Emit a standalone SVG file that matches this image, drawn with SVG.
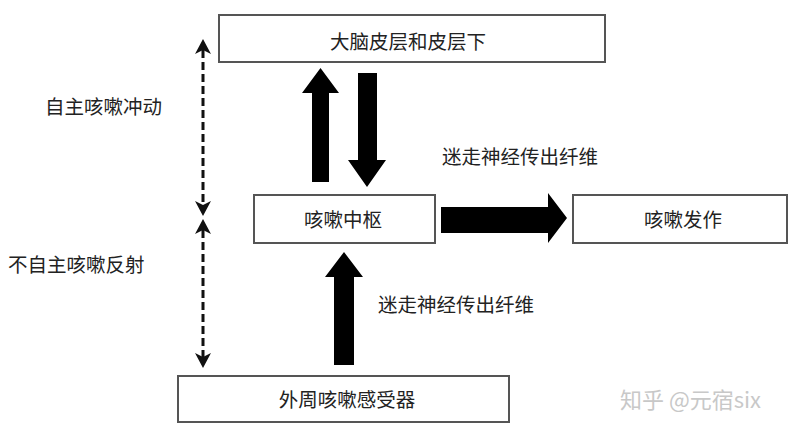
<svg xmlns="http://www.w3.org/2000/svg" width="794" height="431" viewBox="0 0 794 431">
<style>
.box{fill:#fff;stroke:#555;stroke-width:2}
.t{font-family:"Liberation Serif","Noto Sans CJK SC",serif;font-size:19.5px;fill:#222;text-anchor:middle;dominant-baseline:central}
.l{font-family:"Liberation Serif","Noto Sans CJK SC",serif;font-size:19.5px;fill:#222;dominant-baseline:central}
.big{fill:#000}
.dash{stroke:#111;stroke-width:3;stroke-dasharray:8 4;fill:none}
.head{fill:#111}
</style>
<rect width="794" height="431" fill="#fff"/>
<g id="cortex"><rect class="box" x="219" y="15" width="386" height="47"/><text class="t" x="408" y="42">大脑皮层和皮层下</text></g>
<g id="center"><rect class="box" x="254" y="195" width="181" height="48"/><text class="t" x="343" y="220">咳嗽中枢</text></g>
<g id="attack"><rect class="box" x="573" y="195" width="214" height="48"/><text class="t" x="683" y="220">咳嗽发作</text></g>
<g id="receptor"><rect class="box" x="178" y="376" width="331" height="46"/><text class="t" x="347" y="400">外周咳嗽感受器</text></g>
<g id="connectors">
<polygon class="big" points="312,182 329,182 329,93 339,93 320.5,68 302,93 312,93"/>
<polygon class="big" points="358,73 377,73 377,160 386,160 367,187 348,160 358,160"/>
<polygon class="big" points="441,207 548,207 548,193 567,218 548,243 548,233 441,233"/>
<polygon class="big" points="334,365 354,365 354,277 363,277 344,252 325,277 334,277"/>
<line class="dash" x1="203" y1="50" x2="203" y2="206"/>
<polygon class="head" points="203,39 211,54 203,50 195,54"/>
<polygon class="head" points="203,216 211,201 203,205 195,201"/>
<line class="dash" x1="203" y1="230" x2="203" y2="358"/>
<polygon class="head" points="203,219 211,234 203,230 195,234"/>
<polygon class="head" points="203,368 211,353 203,357 195,353"/>
</g>
<text class="l" x="45" y="107">自主咳嗽冲动</text>
<text class="l" x="8" y="265">不自主咳嗽反射</text>
<text class="l" x="442" y="157">迷走神经传出纤维</text>
<text class="l" x="378" y="305">迷走神经传出纤维</text>
<text x="620" y="398" font-family="'Noto Sans CJK SC',sans-serif" font-size="22" fill="#c8c8c8" dominant-baseline="central">知乎 @元宿six</text>
</svg>
